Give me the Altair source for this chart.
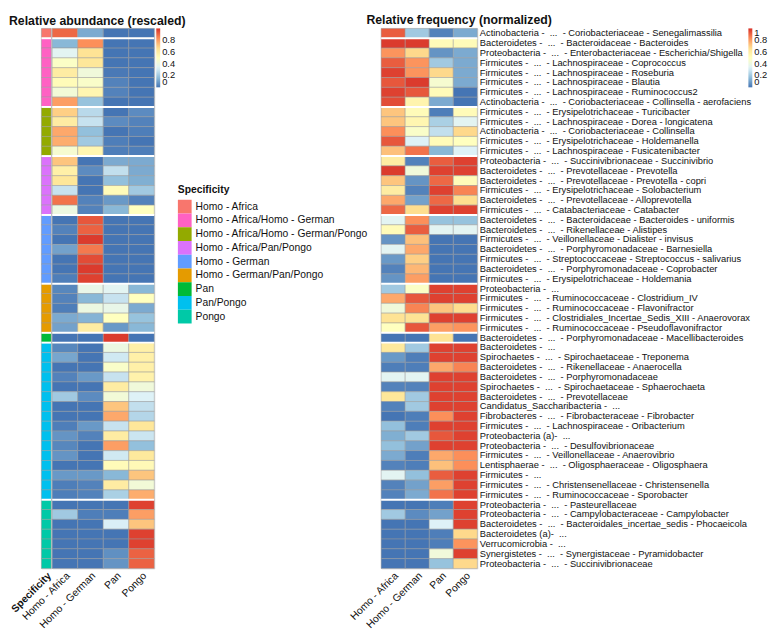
import altair as alt
import pandas as pd

# ---------------- data ----------------
specificity_groups = [
    "Homo - Africa", "Homo - Africa/Homo - German", "Homo - Africa/Homo - German/Pongo",
    "Homo - Africa/Pan/Pongo", "Homo - German", "Homo - German/Pan/Pongo",
    "Pan", "Pan/Pongo", "Pongo",
]
group_colors = ["#F8766D", "#FF61C3", "#93AA00", "#DB72FB", "#619CFF",
                "#E59B00", "#00BA38", "#00C0EE", "#00C9A7"]
group_sizes = [1, 7, 5, 6, 7, 5, 1, 16, 7]

columns = ["Homo - Africa", "Homo - German", "Pan", "Pongo"]

taxa = [
    "Actinobacteria -  ...  - Coriobacteriaceae - Senegalimassilia",
    "Bacteroidetes -  ...  - Bacteroidaceae - Bacteroides",
    "Proteobacteria -  ...  - Enterobacteriaceae - Escherichia/Shigella",
    "Firmicutes -  ...  - Lachnospiraceae - Coprococcus",
    "Firmicutes -  ...  - Lachnospiraceae - Roseburia",
    "Firmicutes -  ...  - Lachnospiraceae - Blautia",
    "Firmicutes -  ...  - Lachnospiraceae - Ruminococcus2",
    "Actinobacteria -  ...  - Coriobacteriaceae - Collinsella - aerofaciens",
    "Firmicutes -  ...  - Erysipelotrichaceae - Turicibacter",
    "Firmicutes -  ...  - Lachnospiraceae - Dorea - longicatena",
    "Actinobacteria -  ...  - Coriobacteriaceae - Collinsella",
    "Firmicutes -  ...  - Erysipelotrichaceae - Holdemanella",
    "Firmicutes -  ...  - Lachnospiraceae - Fusicatenibacter",
    "Proteobacteria -  ...  - Succinivibrionaceae - Succinivibrio",
    "Bacteroidetes -  ...  - Prevotellaceae - Prevotella",
    "Bacteroidetes -  ...  - Prevotellaceae - Prevotella - copri",
    "Firmicutes -  ...  - Erysipelotrichaceae - Solobacterium",
    "Bacteroidetes -  ...  - Prevotellaceae - Alloprevotella",
    "Firmicutes -  ...  - Catabacteriaceae - Catabacter",
    "Bacteroidetes -  ...  - Bacteroidaceae - Bacteroides - uniformis",
    "Bacteroidetes -  ...  - Rikenellaceae - Alistipes",
    "Firmicutes -  ...  - Veillonellaceae - Dialister - invisus",
    "Bacteroidetes -  ...  - Porphyromonadaceae - Barnesiella",
    "Firmicutes -  ...  - Streptococcaceae - Streptococcus - salivarius",
    "Bacteroidetes -  ...  - Porphyromonadaceae - Coprobacter",
    "Firmicutes -  ...  - Erysipelotrichaceae - Holdemania",
    "Proteobacteria -  ...",
    "Firmicutes -  ...  - Ruminococcaceae - Clostridium_IV",
    "Firmicutes -  ...  - Ruminococcaceae - Flavonifractor",
    "Firmicutes -  ...  - Clostridiales_Incertae_Sedis_XIII - Anaerovorax",
    "Firmicutes -  ...  - Ruminococcaceae - Pseudoflavonifractor",
    "Bacteroidetes -  ...  - Porphyromonadaceae - Macellibacteroides",
    "Bacteroidetes -  ...",
    "Spirochaetes -  ...  - Spirochaetaceae - Treponema",
    "Bacteroidetes -  ...  - Rikenellaceae - Anaerocella",
    "Bacteroidetes -  ...  - Porphyromonadaceae",
    "Spirochaetes -  ...  - Spirochaetaceae - Sphaerochaeta",
    "Bacteroidetes -  ...  - Prevotellaceae",
    "Candidatus_Saccharibacteria -  ...",
    "Fibrobacteres -  ...  - Fibrobacteraceae - Fibrobacter",
    "Firmicutes -  ...  - Lachnospiraceae - Oribacterium",
    "Proteobacteria (a)-  ...",
    "Proteobacteria -  ...  - Desulfovibrionaceae",
    "Firmicutes -  ...  - Veillonellaceae - Anaerovibrio",
    "Lentisphaerae -  ...  - Oligosphaeraceae - Oligosphaera",
    "Firmicutes -  ...",
    "Firmicutes -  ...  - Christensenellaceae - Christensenella",
    "Firmicutes -  ...  - Ruminococcaceae - Sporobacter",
    "Proteobacteria -  ...  - Pasteurellaceae",
    "Proteobacteria -  ...  - Campylobacteraceae - Campylobacter",
    "Bacteroidetes -  ...  - Bacteroidales_incertae_sedis - Phocaeicola",
    "Bacteroidetes (a)-  ...",
    "Verrucomicrobia -  ...",
    "Synergistetes -  ...  - Synergistaceae - Pyramidobacter",
    "Proteobacteria -  ...  - Succinivibrionaceae",
]

# Relative abundance (rescaled) -- left heatmap
abund_africa = [0.90, 0.15, 0.35, 0.48, 0.60, 0.52, 0.43, 0.80,
                0.70, 0.60, 0.78, 0.77, 0.45,
                0.72, 0.58, 0.63, 0.28, 0.88, 0.40,
                0.00, 0.03, 0.00, 0.10, 0.00, 0.00, 0.02,
                0.04, 0.03, 0.02, 0.12, 0.10,
                0.00,
                0.04, 0.11, 0.00, 0.03, 0.00, 0.20, 0.00, 0.00, 0.02, 0.07, 0.04, 0.07, 0.00, 0.08, 0.02, 0.02,
                0.00, 0.20, 0.00, 0.00, 0.00, 0.00, 0.00]
abund_german = [0.12, 0.83, 0.65, 0.63, 0.42, 0.47, 0.55, 0.18,
                0.25, 0.28, 0.17, 0.20, 0.55,
                0.00, 0.05, 0.00, 0.00, 0.03, 0.03,
                0.93, 0.91, 0.98, 0.87, 0.95, 0.98, 0.97,
                0.38, 0.15, 0.40, 0.14, 0.60,
                0.00,
                0.00, 0.00, 0.00, 0.08, 0.00, 0.05, 0.00, 0.00, 0.08, 0.03, 0.00, 0.00, 0.00, 0.08, 0.03, 0.03,
                0.00, 0.02, 0.00, 0.00, 0.00, 0.00, 0.00]
abund_pan = [0.00, 0.00, 0.00, 0.00, 0.01, 0.03, 0.03, 0.00,
             0.00, 0.05, 0.00, 0.02, 0.02,
             0.12, 0.27, 0.17, 0.52, 0.08, 0.15,
             0.00, 0.00, 0.00, 0.00, 0.00, 0.00, 0.00,
             0.35, 0.28, 0.38, 0.50, 0.08,
             0.98,
             0.40, 0.30, 0.47, 0.28, 0.60, 0.43, 0.72, 0.78, 0.28, 0.60, 0.80, 0.30, 0.52, 0.15, 0.60, 0.22,
             0.00, 0.02, 0.32, 0.00, 0.00, 0.06, 0.07]
abund_pongo = [0.00, 0.00, 0.00, 0.00, 0.00, 0.00, 0.00, 0.00,
               0.05, 0.03, 0.02, 0.00, 0.02,
               0.12, 0.12, 0.13, 0.20, 0.03, 0.50,
               0.00, 0.00, 0.00, 0.00, 0.00, 0.00, 0.00,
               0.15, 0.50, 0.12, 0.18, 0.15,
               0.00,
               0.58, 0.58, 0.58, 0.57, 0.42, 0.33, 0.27, 0.24, 0.63, 0.29, 0.17, 0.62, 0.53, 0.72, 0.43, 0.77,
               0.97, 0.80, 0.72, 0.97, 0.97, 0.91, 0.91]

# Relative frequency (normalized) -- right heatmap
freq_africa = [0.92, 0.98, 0.82, 0.92, 0.97, 0.93, 0.97, 0.95,
               0.72, 0.72, 0.83, 0.93, 0.73,
               0.60, 0.98, 0.72, 0.60, 0.78, 0.90,
               0.35, 0.52, 0.07, 0.35, 0.08, 0.03, 0.07,
               0.20, 0.78, 0.42, 0.65, 0.50,
               0.00,
               0.62, 0.08, 0.02, 0.35, 0.03, 0.63, 0.03, 0.00, 0.17, 0.13, 0.17, 0.12, 0.03, 0.35, 0.03, 0.03,
               0.00, 0.20, 0.00, 0.00, 0.00, 0.00, 0.00]
freq_german = [0.20, 0.98, 0.68, 0.82, 0.82, 0.98, 0.93, 0.56,
               0.52, 0.55, 0.47, 0.33, 0.88,
               0.03, 0.42, 0.07, 0.03, 0.10, 0.67,
               0.83, 0.92, 0.73, 0.78, 0.70, 0.75, 0.80,
               0.48, 0.93, 0.85, 0.65, 0.93,
               0.00,
               0.20, 0.02, 0.02, 0.35, 0.03, 0.20, 0.20, 0.02, 0.02, 0.20, 0.10, 0.02, 0.02, 0.17, 0.10, 0.12,
               0.00, 0.05, 0.00, 0.00, 0.00, 0.00, 0.00]
freq_pan = [0.03, 0.52, 0.07, 0.20, 0.68, 0.45, 0.52, 0.12,
            0.02, 0.22, 0.27, 0.52, 0.15,
            0.92, 0.97, 0.90, 0.97, 0.90, 0.97,
            0.18, 0.35, 0.00, 0.00, 0.00, 0.00, 0.00,
            0.97, 0.97, 0.72, 0.97, 0.80,
            0.65,
            0.97, 0.97, 0.78, 0.97, 0.97, 0.97, 0.97, 0.83, 0.97, 0.93, 0.97, 0.78, 0.73, 0.92, 0.80, 0.88,
            0.02, 0.10, 0.33, 0.02, 0.02, 0.42, 0.18]
freq_pongo = [0.12, 0.52, 0.12, 0.12, 0.12, 0.12, 0.00, 0.00,
              0.52, 0.35, 0.68, 0.50, 0.33,
              0.97, 0.97, 0.52, 0.85, 0.67, 0.97,
              0.18, 0.35, 0.00, 0.00, 0.00, 0.00, 0.00,
              0.97, 0.97, 0.67, 0.97, 0.82,
              0.00,
              0.97, 0.97, 0.85, 0.97, 0.97, 0.97, 0.97, 0.97, 0.97, 0.97, 0.97, 0.83, 0.83, 0.97, 0.97, 0.97,
              0.97, 0.97, 0.97, 0.68, 0.82, 0.97, 0.68]

heat_palette = ["#4575B4", "#91BFDB", "#E0F3F8", "#FFFFBF", "#FEE090", "#FC8D59", "#D73027"]

# ---------------- tables ----------------
labels = [t.replace("  ", " \u00a0") for t in taxa]
n = len(labels)
group_of = []
for g, k in zip(specificity_groups, group_sizes):
    group_of += [g] * k

starts = []
acc = 0
for k in group_sizes[:-1]:
    acc += k
    starts.append(labels[acc])

col_long = sum([[c] * n for c in columns], [])
abund_df = pd.DataFrame({"taxon": labels * 4, "column": col_long,
                         "abund": abund_africa + abund_german + abund_pan + abund_pongo})
freq_df = pd.DataFrame({"taxon": labels * 4, "column": col_long,
                        "freq": freq_africa + freq_german + freq_pan + freq_pongo})
annot_df = pd.DataFrame({"taxon": labels, "col": ["Specificity"] * n, "group": group_of})
gap_df = pd.DataFrame({"taxon": starts})

FONT = "Liberation Sans"
H = 550
yscale = alt.Scale(domain=labels, paddingInner=0, paddingOuter=0)
border = dict(stroke="#9a9a9a", strokeWidth=0.5)

xaxis_common = dict(labelAngle=315, ticks=False, domain=False, labelFontSize=10.5,
                    labelColor="#111111", labelPadding=2, labelFont=FONT)
right_yaxis = alt.Axis(orient="right", ticks=False, domain=False, labelFontSize=9.5,
                       labelFont=FONT, labelColor="#111111", labelPadding=2, labelLimit=500)


def gaps(axis):
    if axis is None:
        y = alt.Y("taxon:N", scale=yscale, bandPosition=0, axis=None)
    else:
        y = alt.Y("taxon:N", scale=yscale, bandPosition=0, title=None, axis=axis)
    return alt.Chart(gap_df).mark_rule(color="white", strokeWidth=2).encode(y=y)


def colorbar(x, vals):
    return alt.Legend(orient="none", legendX=x, legendY=0, title=None,
                      direction="vertical", gradientLength=60, gradientThickness=4,
                      gradientStrokeWidth=0, values=vals, format="~g", labelOverlap=False,
                      labelFontSize=9.5, labelFont=FONT, labelColor="#111111",
                      labelOffset=2, padding=0)


title_style = dict(anchor="start", frame="group", fontSize=12.5, fontWeight="bold",
                   font=FONT, color="#111111", offset=1)

# annotation column
annot_rect = alt.Chart(annot_df).mark_rect(**border).encode(
    x=alt.X("col:N", title=None, axis=alt.Axis(labelFontWeight="bold", **xaxis_common)),
    y=alt.Y("taxon:N", scale=yscale, axis=None),
    color=alt.Color("group:N", scale=alt.Scale(domain=specificity_groups, range=group_colors),
                    legend=alt.Legend(orient="none", legendX=139, legendY=160,
                                      title="Specificity", titleFontSize=10.5, titleFontWeight="bold",
                                      titleFont=FONT, titleColor="#111111", titlePadding=4,
                                      symbolType="square", symbolSize=196, symbolStrokeWidth=0,
                                      symbolOpacity=1, rowPadding=0, labelFontSize=10.5,
                                      labelFont=FONT, labelColor="#111111", labelOffset=4,
                                      labelLimit=400, padding=0)),
)
annot = alt.layer(annot_rect, gaps(None)).properties(width=10, height=H)

# left heatmap
left_rect = alt.Chart(abund_df).mark_rect(**border).encode(
    x=alt.X("column:N", sort=columns, title=None, axis=alt.Axis(**xaxis_common)),
    y=alt.Y("taxon:N", scale=yscale, axis=None),
    color=alt.Color("abund:Q",
                    scale=alt.Scale(domain=[0, 1], range=heat_palette, interpolate="rgb"),
                    legend=colorbar(106, [0, 0.2, 0.4, 0.6, 0.8])),
)
left = alt.layer(left_rect, gaps(None)).properties(
    width=104, height=H,
    title=alt.TitleParams("Relative abundance (rescaled)", dx=-44, **title_style),
)

# right heatmap
right_rect = alt.Chart(freq_df).mark_rect(**border).encode(
    x=alt.X("column:N", sort=columns, title=None, axis=alt.Axis(**xaxis_common)),
    y=alt.Y("taxon:N", scale=yscale, title=None, axis=right_yaxis),
    color=alt.Color("freq:Q",
                    scale=alt.Scale(domain=[0, 1], range=heat_palette, interpolate="rgb"),
                    legend=colorbar(374, [0, 0.2, 0.4, 0.6, 0.8, 1])),
)
right = alt.layer(right_rect, gaps(right_yaxis)).properties(
    width=98, height=H,
    title=alt.TitleParams("Relative frequency (normalized)", dx=-15, **title_style),
)

left_block = alt.hconcat(annot, left, spacing=1, bounds="flush").resolve_scale(color="independent")
chart = alt.hconcat(left_block, right, spacing=346, bounds="flush").resolve_scale(
    color="independent"
).properties(
    padding={"left": 0, "top": 0, "right": 0, "bottom": 0}
).configure_view(strokeWidth=0).configure(font=FONT)

chart.save("out.html", embed_options={"renderer": "svg", "actions": False})
